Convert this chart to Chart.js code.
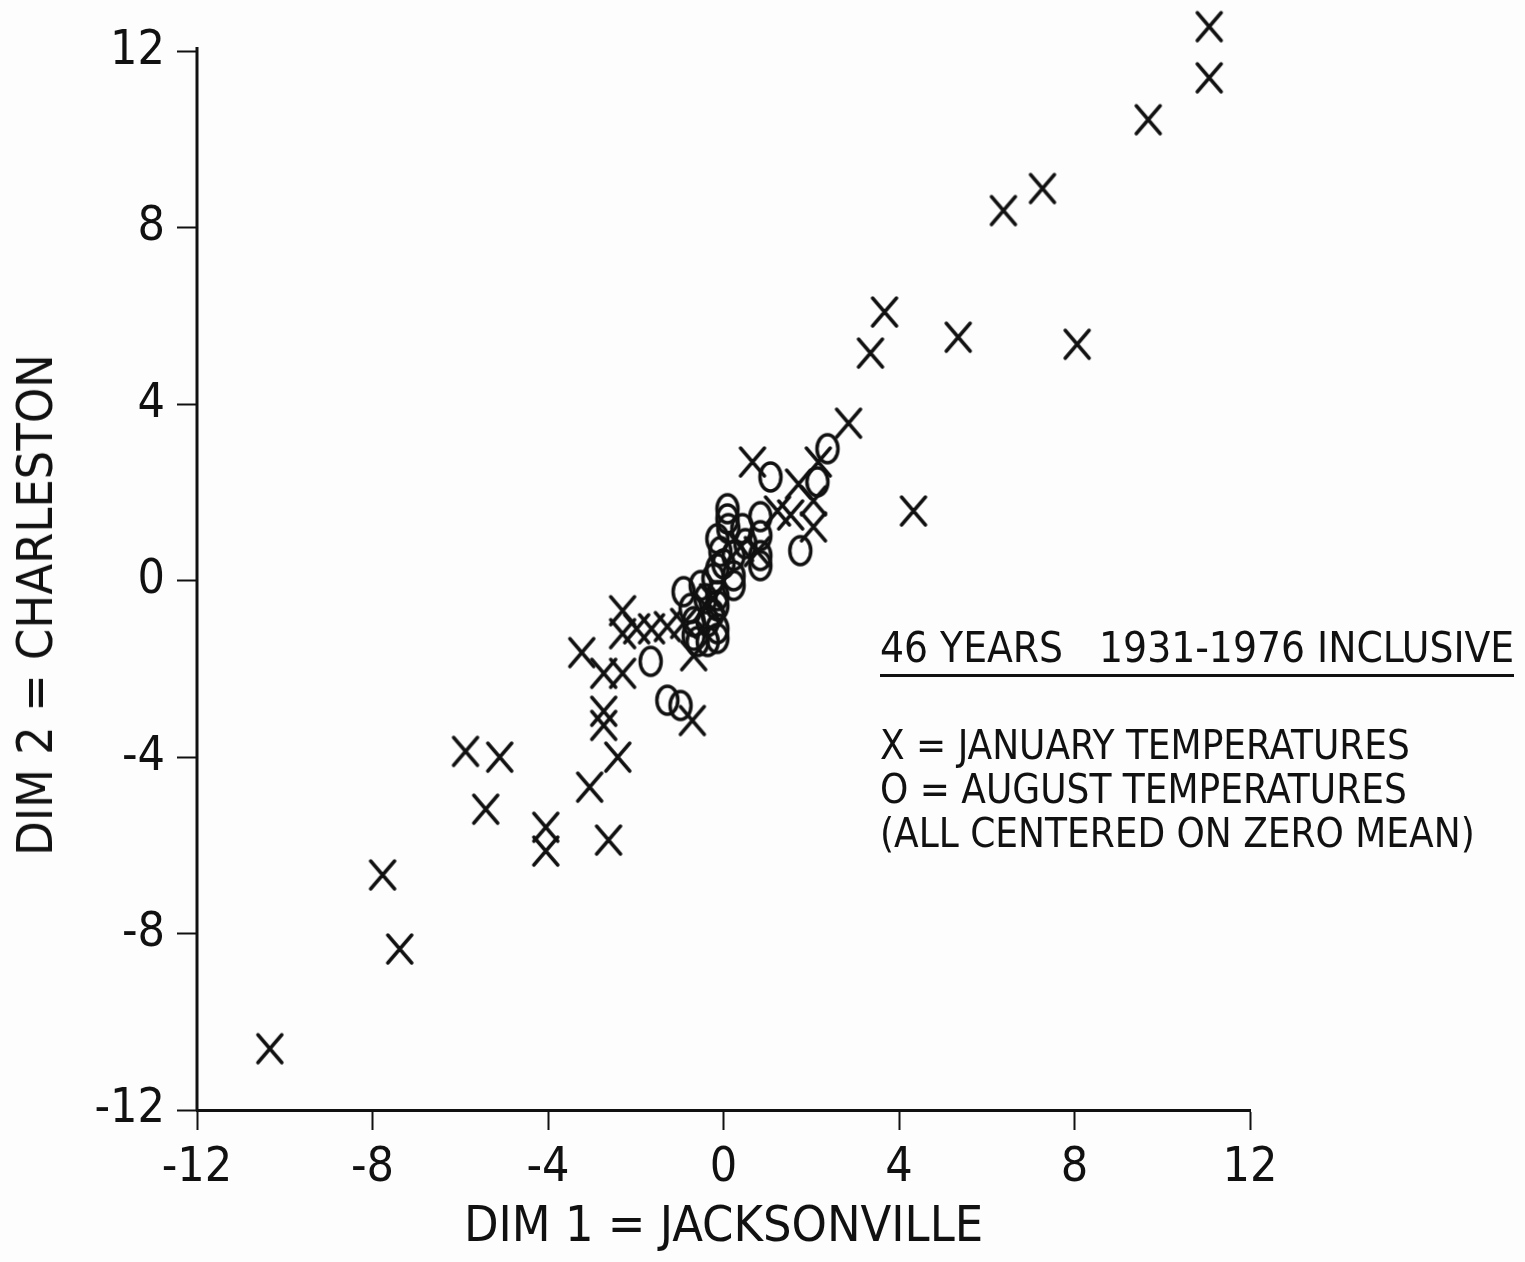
<!DOCTYPE html>
<html>
<head>
<meta charset="utf-8">
<script src="https://cdn.jsdelivr.net/npm/chart.js@4.4.1/dist/chart.umd.min.js"></script>
<style>
  html, body { margin: 0; padding: 0; background: #fdfdfd; }
  #wrap { position: relative; width: 1525px; height: 1262px; }
  .txt {
    font-family: 'Liberation Sans Narrow', 'DejaVu Sans Condensed', 'Roboto Condensed', Roboto, sans-serif;
    color: #111; white-space: pre;
  }
  #note { position: absolute; left: 880px; top: 626px; font-size: 40px; line-height: 44px; }
  #note .head { border-bottom: 3px solid #111; font-size: 42px; padding-bottom: 4px; margin-bottom: 46px; }
  #ytitle {
    position: absolute; left: 35px; top: 605px; font-size: 50px; line-height: 50px;
    transform: translate(-50%, -50%) rotate(-90deg);
  }
</style>
</head>
<body>
<div id="wrap">
  <canvas id="scatter" width="1525" height="1262"></canvas>
  <div id="ytitle" class="txt">DIM 2 = CHARLESTON</div>
  <div id="note" class="txt"><div class="head">46 YEARS   1931-1976 INCLUSIVE</div>X = JANUARY TEMPERATURES
O = AUGUST TEMPERATURES
(ALL CENTERED ON ZERO MEAN)</div>
</div>
<script>
const FONT = "'Liberation Sans Narrow', 'DejaVu Sans Condensed', 'Roboto Condensed', Roboto, sans-serif";

// January (X) points: Jacksonville vs Charleston, centered
const janX = [11.07, 11.07, 9.68, 7.27, 6.38, 3.67, 3.35, 5.35, 8.06, 2.85, 4.33, 0.66,
  2.16, 1.71, 2.05, 2.05, 1.23, 1.53,
  -2.30, -2.30, -1.98, -1.64, -1.28, -0.91, -0.68,
  -10.34, -7.77, -7.38, -5.88, -5.10, -5.42, -4.05, -4.05, -3.05, -2.62, -2.41,
  -3.23, -2.73, -2.30, -2.73, -2.73, -0.71,
  -0.39, -0.25, 0.39, 0.77];
const janY = [12.56, 11.40, 10.45, 8.89, 8.39, 6.09, 5.16, 5.52, 5.36, 3.57, 1.58, 2.69,
  2.69, 2.19, 1.81, 1.22, 1.58, 1.49,
  -0.68, -1.20, -1.09, -1.09, -1.04, -0.97, -1.70,
  -10.61, -6.67, -8.35, -3.87, -4.00, -5.18, -5.59, -6.13, -4.68, -5.88, -4.00,
  -1.63, -2.10, -2.10, -2.96, -3.28, -3.17,
  -0.59, -0.41, 0.77, 0.66];

// August (O) points
const augX = [1.07, 2.37, 2.14, 1.75, 0.09, 0.09, 0.84, 0.43, 0.84, -0.14, -0.07, 0.23,
  0.84, 0.84, -0.14, 0.23, -0.14, -0.91, -0.52, -0.14, -0.68, -0.36, -0.14, -0.68,
  -0.59, -0.36, -0.14, -1.66, -1.28, -0.98, 0.23, -0.23, 0.00, -0.41, 0.50, -0.75,
  -0.25, 0.11];
const augY = [2.35, 2.99, 2.24, 0.68, 1.63, 1.40, 1.45, 1.18, 1.02, 0.95, 0.66, 0.57,
  0.57, 0.34, 0.27, -0.11, -0.34, -0.25, -0.11, -0.57, -0.93, -0.93, -1.09, -1.24,
  -1.38, -1.38, -1.31, -1.83, -2.71, -2.83, 0.11, 0.05, 0.38, -0.41, 0.84, -0.63,
  -0.75, 1.18];

const axisTicks = [-12, -8, -4, 0, 4, 8, 12];

function makeCross() {
  const c = document.createElement('canvas');
  c.width = 30; c.height = 34;
  const g = c.getContext('2d');
  g.strokeStyle = '#111';
  g.lineWidth = 3.5;
  g.lineCap = 'round';
  g.beginPath();
  g.moveTo(3, 3); g.lineTo(27, 31);
  g.moveTo(27, 3); g.lineTo(3, 31);
  g.stroke();
  return c;
}

function makeOval() {
  const c = document.createElement('canvas');
  c.width = 28; c.height = 34;
  const g = c.getContext('2d');
  g.strokeStyle = '#111';
  g.lineWidth = 3.5;
  g.beginPath();
  g.ellipse(14, 17, 10.5, 14, 0, 0, Math.PI * 2);
  g.stroke();
  return c;
}

// y axis line only from -12 up to 12 (scale runs a bit higher so the top X fits)
const yAxisLine = {
  id: 'yAxisLine',
  afterDraw(chart) {
    const y = chart.scales.y;
    const g = chart.ctx;
    g.save();
    g.strokeStyle = '#111';
    g.lineWidth = 3;
    g.beginPath();
    g.moveTo(y.right, y.getPixelForValue(12.1));
    g.lineTo(y.right, y.getPixelForValue(-12));
    g.stroke();
    g.restore();
  }
};

const toPoints = (xs, ys) => xs.map((x, i) => ({ x: x, y: ys[i] }));

const ctx = document.getElementById('scatter').getContext('2d');
new Chart(ctx, {
  type: 'scatter',
  data: {
    datasets: [{
      label: 'January',
      data: toPoints(janX, janY),
      pointStyle: makeCross(),
      pointRadius: 15,
      clip: false
    }, {
      label: 'August',
      data: toPoints(augX, augY),
      pointStyle: makeOval(),
      pointRadius: 15,
      clip: false
    }]
  },
  plugins: [yAxisLine],
  options: {
    responsive: false,
    animation: false,
    layout: {
      padding: { left: 0, top: 6, right: 275, bottom: 0 }
    },
    plugins: {
      legend: { display: false },
      tooltip: { enabled: false }
    },
    scales: {
      x: {
        type: 'linear',
        min: -12,
        max: 12,
        afterFit: s => { s.height = 152; },
        afterBuildTicks: s => { s.ticks = axisTicks.map(v => ({ value: v })); },
        border: { display: true, color: '#111', width: 3 },
        grid: { drawOnChartArea: false, drawTicks: true, tickLength: 20, tickColor: '#111', tickWidth: 2 },
        ticks: { color: '#111', padding: 10, font: { family: FONT, size: 48 } },
        title: {
          display: true,
          text: 'DIM 1 = JACKSONVILLE',
          color: '#111',
          padding: { top: 0, bottom: 4 },
          font: { family: FONT, size: 50 }
        }
      },
      y: {
        type: 'linear',
        min: -12,
        max: 12.8,
        afterFit: s => { s.width = 197; s.paddingTop = 0; s.paddingBottom = 0; },
        afterBuildTicks: s => { s.ticks = axisTicks.map(v => ({ value: v })); },
        border: { display: false },
        grid: { drawOnChartArea: false, drawTicks: true, tickLength: 20, tickColor: '#111', tickWidth: 2 },
        ticks: { color: '#111', padding: 12, font: { family: FONT, size: 48 } }
      }
    }
  }
});
</script>
</body>
</html>
